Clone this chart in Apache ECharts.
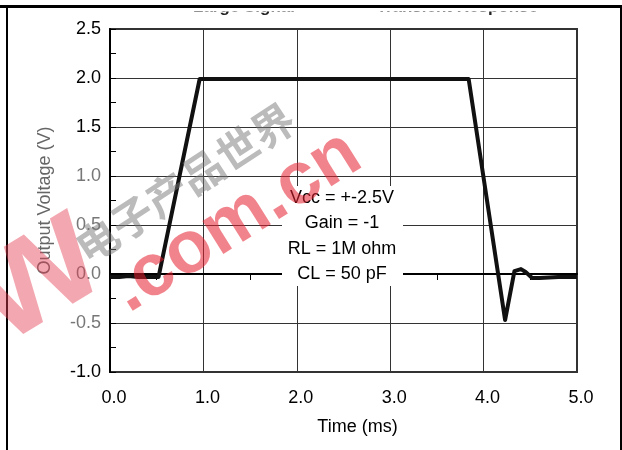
<!DOCTYPE html>
<html><head><meta charset="utf-8">
<script src="https://cdn.jsdelivr.net/npm/echarts@6/dist/echarts.min.js"></script>
<style>html,body{margin:0;padding:0;background:#fff}#c{width:622px;height:450px}</style>
</head><body><div id="c"></div>
<script>
// Data
const timeMs  = [0.00, 0.10, 0.20, 0.30, 0.40, 0.52, 0.96, 3.84, 4.23, 4.33, 4.40, 4.45, 4.52, 4.60, 4.80, 5.00];
const voltage = [-0.03,-0.03,-0.02,-0.03,-0.03,-0.03, 1.99, 1.99,-0.47, 0.03, 0.05, 0.02,-0.04,-0.04,-0.03,-0.03];
const xTickLabels = ['0.0','1.0','2.0','3.0','4.0','5.0'];
const yTickLabels = ['-1.0','-0.5','0.0','0.5','1.0','1.5','2.0','2.5'];
const conditions = ['Vcc = +-2.5V', 'Gain = -1', 'RL = 1M ohm', 'CL = 50 pF'];
const titleParts = ['Large Signal', 'Transient Response'];
const axisNames = {x: 'Time (ms)', y: 'Output Voltage (V)'};
const watermark = {cn: '电子产品世界', url: '.com.cn', w: 'w'};

const FONT = 'Liberation Sans, Arial, sans-serif';
const chart = echarts.init(document.getElementById('c'), null, {renderer: 'canvas'});

const seriesData = timeMs.map((t, i) => [t, voltage[i]]);

const condGraphics = [{
  type: 'rect', z: 20,
  shape: {x: 282, y: 186, width: 121, height: 100},
  style: {fill: '#fff'}
}].concat(conditions.map((s, i) => ({
  type: 'text', z: 21, x: 342, y: 198 + i * 25.3,
  style: {text: s, font: '18px ' + FONT, fill: '#000', align: 'center', verticalAlign: 'middle'}
})));

const option = {
  animation: false,
  backgroundColor: '#fff',
  grid: {left: 110, right: 45, top: 29, bottom: 78, show: true, borderColor: '#333', borderWidth: 2, backgroundColor: 'transparent'},
  xAxis: {
    type: 'value', min: 0, max: 5, interval: 1,
    name: axisNames.x, nameLocation: 'middle', nameGap: 46,
    nameTextStyle: {fontFamily: FONT, fontSize: 18, color: '#000', padding: [0, 0, 0, 28]},
    axisLine: {show: true, lineStyle: {color: '#000', width: 2}},
    axisTick: {show: false},
    minorTick: {show: true, splitNumber: 2, length: 6, lineStyle: {color: '#000', width: 1}},
    axisLabel: {
      fontFamily: FONT, fontSize: 18, color: '#000', margin: 17, padding: [0, 0, 0, 8],
      formatter: (v) => xTickLabels[Math.round(v)]
    },
    splitLine: {show: true, lineStyle: {color: '#333', width: 1}}
  },
  yAxis: {
    type: 'value', min: -1, max: 2.5, interval: 0.5,
    name: axisNames.y, nameLocation: 'middle', nameGap: 56,
    nameTextStyle: {fontFamily: FONT, fontSize: 18, color: '#666'},
    axisLine: {show: true, lineStyle: {color: '#000', width: 2}},
    axisTick: {show: true, inside: true, length: 6, lineStyle: {color: '#000'}},
    minorTick: {show: true, splitNumber: 2, length: 6, lineStyle: {color: '#000', width: 1}},
    axisLabel: {
      fontFamily: FONT, fontSize: 18, margin: 9, padding: [9, 0, 0, 0],
      formatter: (v) => yTickLabels[Math.round((v + 1) * 2)],
      color: (v) => (v > -0.75 && v < 1.25 ? '#777' : '#000')
    },
    splitLine: {show: true, lineStyle: {color: '#333', width: 1}}
  },
  series: [{
    type: 'line', data: seriesData, symbol: 'none', z: 5,
    lineStyle: {color: '#111', width: 4, join: 'round'}
  }],
  graphic: [
    // clipped title
    {type: 'text', z: 30, x: 193, y: 7.5, style: {text: titleParts[0], font: 'bold 17px ' + FONT, fill: '#222', verticalAlign: 'middle'}},
    {type: 'text', z: 30, x: 538, y: 7.5, style: {text: titleParts[1], font: 'bold 17px ' + FONT, fill: '#222', align: 'right', verticalAlign: 'middle'}},
    {type: 'rect', z: 31, shape: {x: 0, y: 0, width: 622, height: 11.5}, style: {fill: '#fff'}},
    // outer frame
    {type: 'rect', z: 32, shape: {x: 0, y: 5, width: 622, height: 3}, style: {fill: '#000'}},
    {type: 'rect', z: 32, shape: {x: 6, y: 5, width: 2, height: 445}, style: {fill: '#000'}},
    {type: 'rect', z: 32, shape: {x: 620, y: 5, width: 2, height: 445}, style: {fill: '#000'}},
    // watermark
    {type: 'text', z: 40, x: 35, y: 275, rotation: 0.55,
      style: {text: watermark.w, font: 'bold 160px ' + FONT, fill: 'rgba(228,60,80,0.45)', align: 'center', verticalAlign: 'middle'}},
    {type: 'text', z: 40, x: 185, y: 183, rotation: 0.58,
      style: {text: watermark.cn, font: 'bold 42px "Noto Sans CJK SC"', fill: 'rgba(120,120,120,0.5)', align: 'center', verticalAlign: 'middle'}},
    {type: 'text', z: 40, x: 236, y: 222, rotation: 0.56,
      style: {text: watermark.url, font: 'bold 74px ' + FONT, fill: 'rgba(230,30,45,0.55)', align: 'center', verticalAlign: 'middle'}}
  ].concat(condGraphics)
};
chart.setOption(option);
</script>
</body></html>
